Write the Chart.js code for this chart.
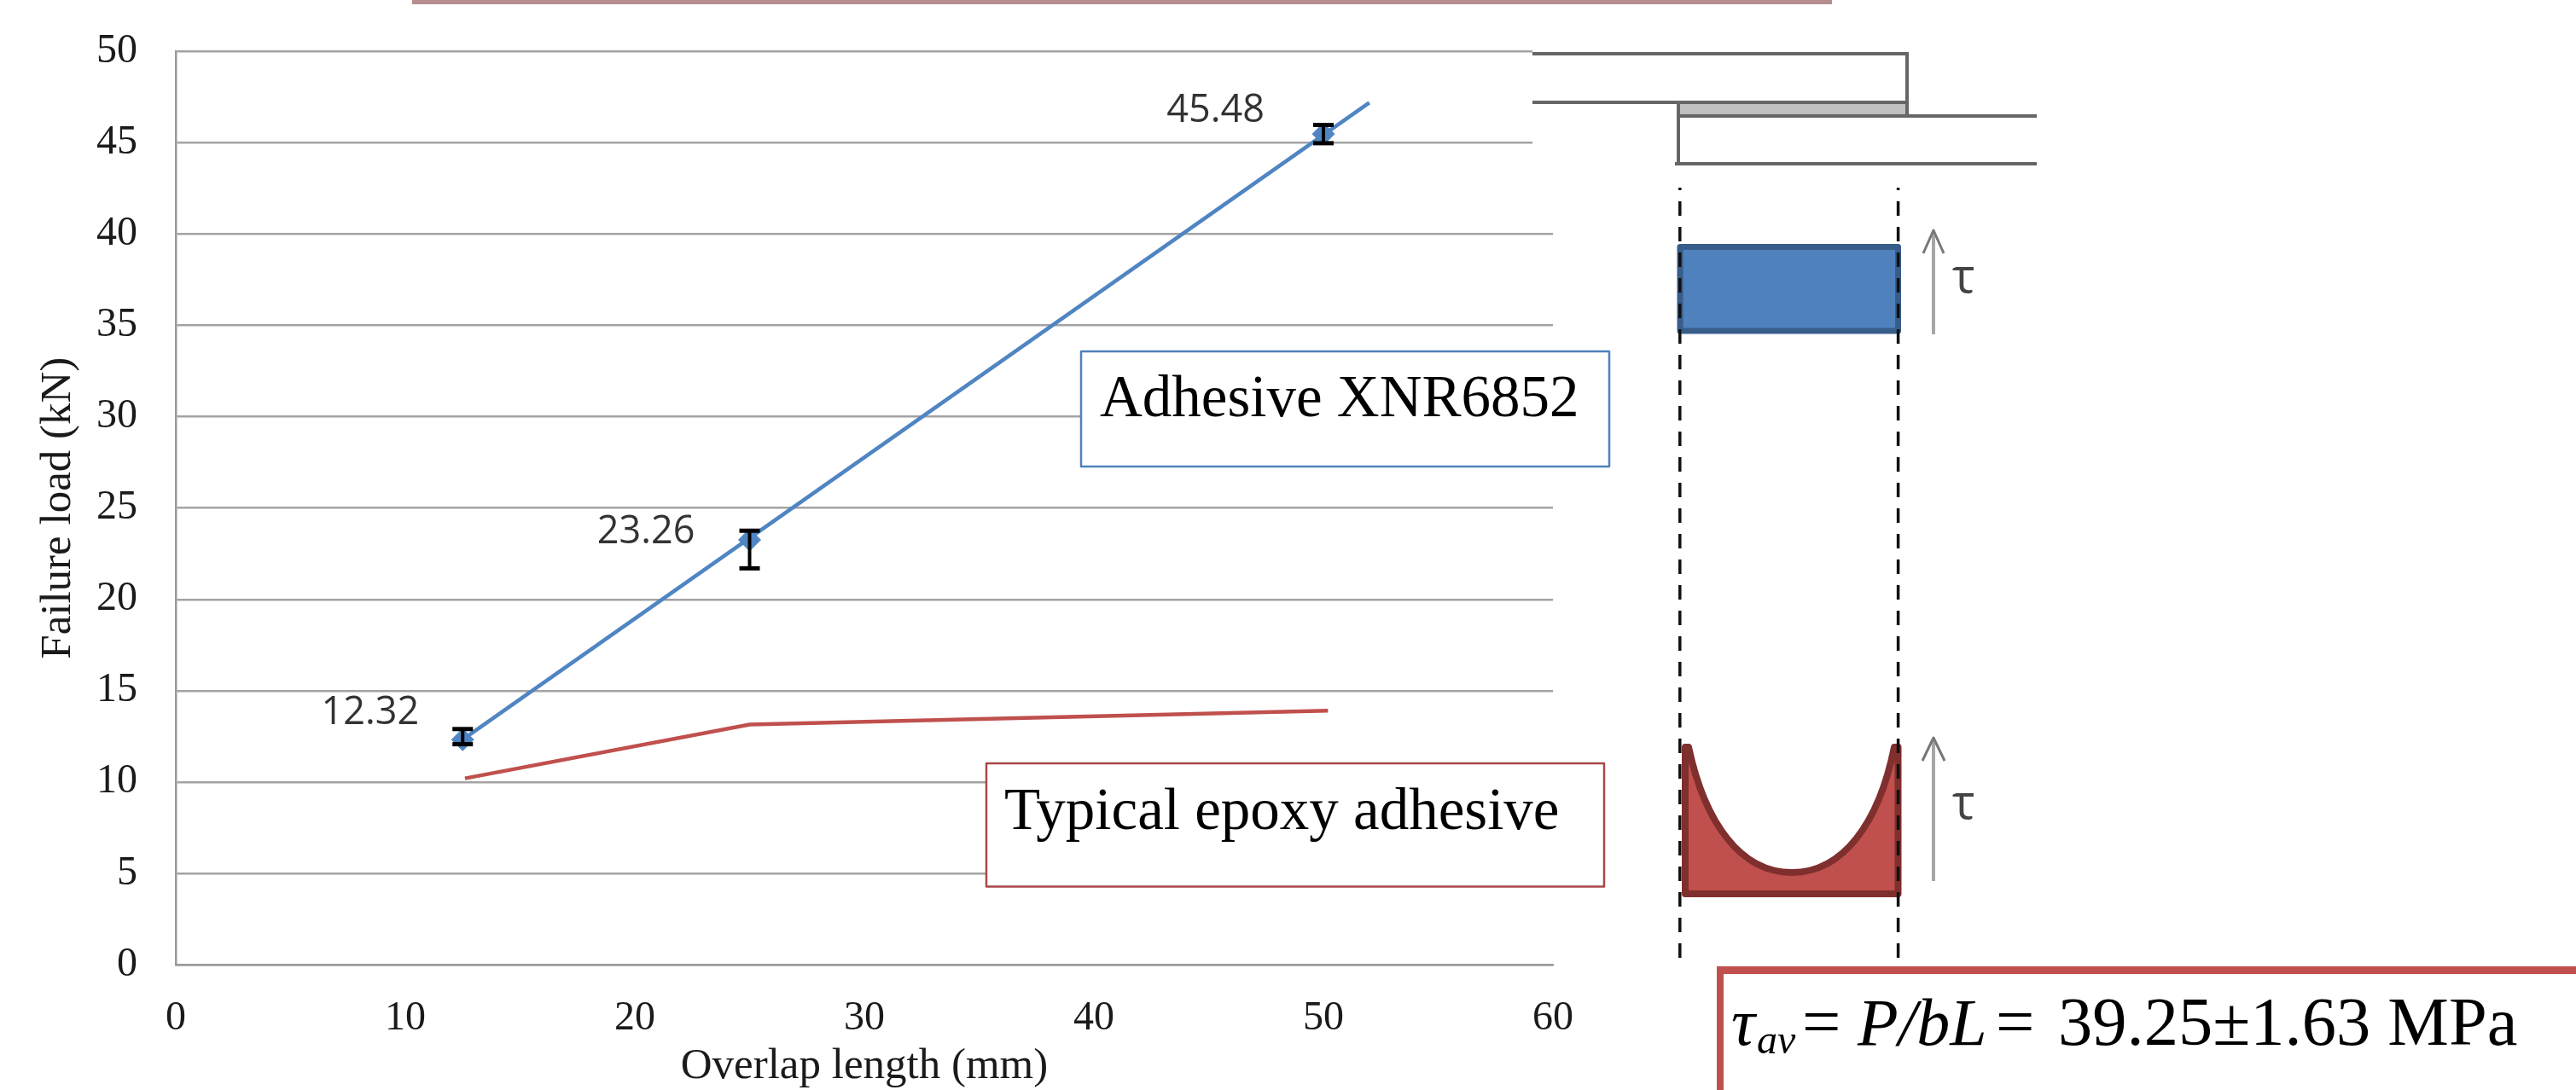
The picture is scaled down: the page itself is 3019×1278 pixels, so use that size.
<!DOCTYPE html>
<html><head><meta charset="utf-8">
<style>html,body{margin:0;padding:0;background:#fff;overflow:hidden}canvas{display:block}</style>
<script src="https://cdn.jsdelivr.net/npm/chart.js@4"></script>
</head><body>
<canvas id="c" width="3019" height="1278"></canvas>
<script>
const xTicks = [0,10,20,30,40,50,60];
const yTicks = [0,5,10,15,20,25,30,35,40,45,50];
const overlapLengths = [12.5,25,50];
const failureLoads = [12.32,23.26,45.48];
const errorUpper = [12.9,23.76,45.98];
const errorLower = [12.07,21.7,44.98];
const valueLabels = ["12.32","23.26","45.48"];
const trendX = [12.5,52];
const trendY = [12.32,47.2];
const epoxyX = [12.6,25,50.2];
const epoxyY = [10.2,13.15,13.9];
const labelDx = [-51,-64,-69];
const labelDy = [-31,-9,-27];
const BLUE='#4f85c2', RED='#c0504d', SERIF='"Liberation Serif"';
const pairs=(a,b)=>a.map((x,i)=>({x,y:b[i]}));

function line(ctx,pts){ctx.beginPath();pts.forEach((p,i)=>i?ctx.lineTo(p[0],p[1]):ctx.moveTo(p[0],p[1]));ctx.stroke();}
function arrow(ctx,x,top,bot,wing,wy){
  ctx.strokeStyle='#a6a6a6';ctx.lineWidth=4;line(ctx,[[x,bot],[x,top+4]]);
  ctx.strokeStyle='#777';ctx.lineWidth=3;line(ctx,[[x-wing,wy],[x,top],[x+wing,wy]]);
}
function box(ctx,x0,y0,x1,y1,col,w){ctx.fillStyle='#fff';ctx.fillRect(x0,y0,x1-x0,y1-y0);ctx.strokeStyle=col;ctx.lineWidth=w;ctx.strokeRect(x0,y0,x1-x0,y1-y0);}
function text(ctx,s,x,y,font,col){ctx.font=font;ctx.fillStyle=col||'#000';ctx.textAlign='left';ctx.textBaseline='alphabetic';ctx.fillText(s,x,y);}

const annotations={id:'annotations',
  afterDatasetsDraw(chart){
    const ctx=chart.ctx,xs=chart.scales.x,ys=chart.scales.y;
    ctx.save();
    overlapLengths.forEach((v,i)=>{
      const x=xs.getPixelForValue(v),u=ys.getPixelForValue(errorUpper[i]),l=ys.getPixelForValue(errorLower[i]);
      ctx.strokeStyle='#000';ctx.lineWidth=4;line(ctx,[[x,u],[x,l]]);
      ctx.lineWidth=5;line(ctx,[[x-12,u],[x+12,u]]);line(ctx,[[x-12,l],[x+12,l]]);
    });
    overlapLengths.forEach((v,i)=>{
      const x=xs.getPixelForValue(v),y=ys.getPixelForValue(failureLoads[i]);
      ctx.font='45px "Open Sans"';ctx.fillStyle='#333';ctx.textAlign='right';ctx.textBaseline='middle';
      ctx.fillText(valueLabels[i],x+labelDx[i],y+labelDy[i]);
    });
    ctx.restore();
  },
  afterDraw(chart){
    const ctx=chart.ctx;
    ctx.save();
    ctx.fillStyle='#b88d8f';ctx.fillRect(483,0,1664,5);
    ctx.fillStyle='#fff';ctx.fillRect(1796,40,40,180);
    ctx.fillStyle='#c0c0c0';ctx.fillRect(1967,120,268,15);
    ctx.strokeStyle='#666';ctx.lineWidth=4;
    line(ctx,[[1796,63],[2235,63],[2235,135]]);
    line(ctx,[[1796,120],[2235,120]]);
    line(ctx,[[1967,136],[2387,136]]);
    line(ctx,[[1967,120],[1967,192]]);
    line(ctx,[[1963,192],[2387,192]]);
    ctx.lineJoin='round';
    ctx.fillStyle='#4f81bd';ctx.strokeStyle='#385d8a';ctx.lineWidth=7;
    ctx.beginPath();ctx.rect(1969,289.5,255.5,98.5);ctx.fill();ctx.stroke();
    ctx.fillStyle=RED;ctx.strokeStyle='#7f2f2d';ctx.lineWidth=8;
    ctx.beginPath();ctx.moveTo(1975,876);ctx.lineTo(1975,1048);ctx.lineTo(2224.5,1048);ctx.lineTo(2224.5,876);ctx.lineTo(2220,876);
    ctx.bezierCurveTo(2202,965,2160,1023,2100,1023);
    ctx.bezierCurveTo(2040,1023,1998,965,1979,876);
    ctx.closePath();ctx.fill();ctx.stroke();
    ctx.strokeStyle='#111';ctx.lineWidth=3.5;ctx.setLineDash([17,13]);ctx.lineDashOffset=14;
    line(ctx,[[1968.8,220],[1968.8,1133]]);
    line(ctx,[[2224.6,220],[2224.6,1133]]);
    ctx.setLineDash([]);
    arrow(ctx,2266,270,392,12,297);
    arrow(ctx,2266,865,1033,13,892);
    text(ctx,'τ',2288,343,'56px "Open Sans"','#444');
    text(ctx,'τ',2288,960,'56px "Open Sans"','#444');
    box(ctx,1267,412,1886,547,'#4f81bd',2.5);
    text(ctx,'Adhesive XNR6852',1289,488,'69px '+SERIF);
    box(ctx,1156,895,1880,1039.5,'#a9474a',2.5);
    text(ctx,'Typical epoxy adhesive',1177,971.6,'69px '+SERIF);
    ctx.fillStyle=RED;ctx.fillRect(2012,1133,1007,9);ctx.fillRect(2012,1133,8,145);
    const it='italic 78px '+SERIF, rm='80.5px '+SERIF;
    text(ctx,'τ',2029,1225,it);
    text(ctx,'av',2059,1235,'italic 48px '+SERIF);
    text(ctx,'=',2112,1225,rm);
    text(ctx,'P/bL',2177,1225,it);
    text(ctx,'=',2339,1225,rm);
    text(ctx,'39.25±1.63 MPa',2412,1225,rm);
    ctx.restore();
  }
};

new Chart(document.getElementById('c'),{
  type:'scatter',
  data:{datasets:[
    {label:'Adhesive XNR6852',data:pairs(overlapLengths,failureLoads),showLine:false,pointStyle:'rectRot',pointRadius:13,pointBackgroundColor:BLUE,pointBorderColor:BLUE},
    {label:'Adhesive XNR6852 trend',data:pairs(trendX,trendY),showLine:true,borderColor:BLUE,borderWidth:4.5,pointRadius:0},
    {label:'Typical epoxy adhesive',data:pairs(epoxyX,epoxyY),showLine:true,borderColor:RED,borderWidth:4.5,pointRadius:0}
  ]},
  options:{
    responsive:false,animation:false,
    layout:{padding:{left:0,right:1199,top:60.4,bottom:0}},
    plugins:{legend:{display:false},tooltip:{enabled:false}},
    scales:{
      x:{type:'linear',min:0,max:60,
        afterBuildTicks(s){s.ticks=xTicks.map(value=>({value}));},
        afterFit(s){s.height=147;},
        grid:{display:false,drawTicks:false},
        border:{color:'#9a9a9a',width:2.5},
        ticks:{color:'#1a1a1a',font:{family:'Liberation Serif',size:48},padding:35,maxRotation:0},
        title:{display:true,text:'Overlap length (mm)',color:'#1a1a1a',font:{family:'Liberation Serif',size:51},padding:{top:0,bottom:-3}}
      },
      y:{type:'linear',min:0,max:50,
        afterBuildTicks(s){s.ticks=yTicks.map(value=>({value}));},
        afterFit(s){s.width=206;s.paddingTop=0;s.paddingBottom=0;},
        grid:{color:'#a3a3a3',lineWidth:2.5,drawTicks:false},
        border:{color:'#9a9a9a',width:2.5},
        ticks:{color:'#1a1a1a',font:{family:'Liberation Serif',size:48},padding:45},
        title:{display:true,text:'Failure load (kN)',color:'#1a1a1a',font:{family:'Liberation Serif',size:51},padding:{top:38,bottom:0}}
      }
    }
  },
  plugins:[annotations]
});
</script>
</body></html>
